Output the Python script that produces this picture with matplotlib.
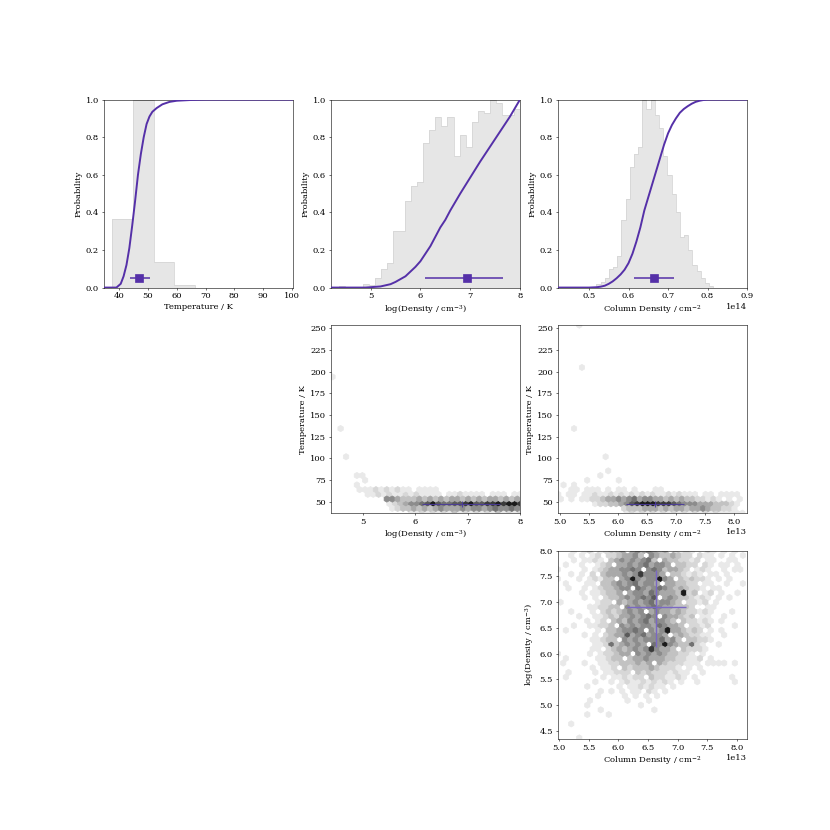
import numpy as np
import matplotlib
matplotlib.use("Agg")
import matplotlib.pyplot as plt
from matplotlib.ticker import ScalarFormatter

plt.rcParams['font.family'] = 'DejaVu Serif'
plt.rcParams['mathtext.fontset'] = 'dejavuserif'
plt.rcParams['font.size'] = 12

PURPLE = '#5530a8'
HIST_FILL = '#e6e6e6'
HIST_EDGE = '#d6d6d6'

# --- Histogramas normalizados (pico = 1), 30 bins sobre el rango de datos ---
temp_range = (37.37, 255.5)
temp_hist = [0.365, 1.0, 0.135, 0.012] + [0.0] * 26

dens_range = (4.36, 8.0)
dens_hist = [0.008, 0.0, 0.0, 0.0, 0.02, 0.015, 0.05, 0.10, 0.13, 0.30,
             0.30, 0.46, 0.54, 0.56, 0.77, 0.84, 0.905, 0.86, 0.905, 0.70,
             0.81, 0.75, 0.88, 0.94, 0.93, 1.0, 0.98, 0.92, 0.92, 0.95]

col_range = (0.4975, 0.8147)  # en 1e14 cm^-2
col_hist = [0.005, 0.005, 0.02, 0.03, 0.05, 0.10, 0.11, 0.17, 0.36, 0.47,
            0.64, 0.71, 0.75, 1.0, 0.95, 1.0, 0.92, 0.85, 0.70, 0.60,
            0.50, 0.40, 0.27, 0.28, 0.20, 0.12, 0.09, 0.05, 0.025, 0.01]

# --- Distribuciones acumuladas ---
temp_cdf_x = [34.6, 39.0, 40.5, 41.5, 42.5, 43.5, 44.5, 45.5, 46.5, 47.5, 48.5,
              49.5, 50.5, 51.5, 53.0, 55.0, 57.5, 60.0, 65.0, 70.0, 100.4]
temp_cdf_y = [0, 0, 0.02, 0.06, 0.12, 0.21, 0.33, 0.46, 0.60, 0.71, 0.80,
              0.87, 0.91, 0.935, 0.955, 0.975, 0.988, 0.994, 0.998, 1.0, 1.0]

dens_cdf_x = [4.2, 4.9, 5.0, 5.1, 5.2, 5.3, 5.4, 5.5, 5.6, 5.7, 5.8, 5.9, 6.0,
              6.1, 6.2, 6.3, 6.4, 6.5, 6.6, 6.8, 7.0, 7.2, 7.4, 7.6, 7.8, 8.0]
dens_cdf_y = [0, 0, 0.002, 0.004, 0.006, 0.012, 0.018, 0.03, 0.045, 0.06, 0.085,
              0.11, 0.14, 0.18, 0.22, 0.27, 0.32, 0.36, 0.41, 0.5, 0.585, 0.67,
              0.75, 0.83, 0.91, 1.0]

col_cdf_x = [0.42, 0.50, 0.52, 0.53, 0.54, 0.55, 0.56, 0.57, 0.58, 0.59, 0.60,
             0.61, 0.62, 0.63, 0.64, 0.65, 0.66, 0.67, 0.68, 0.69, 0.70, 0.71,
             0.72, 0.73, 0.74, 0.75, 0.76, 0.77, 0.78, 0.79, 0.80, 0.82, 0.90]
col_cdf_y = [0, 0, 0.002, 0.005, 0.01, 0.02, 0.033, 0.05, 0.07, 0.095, 0.13,
             0.18, 0.245, 0.32, 0.41, 0.48, 0.55, 0.62, 0.69, 0.76, 0.82, 0.865,
             0.9, 0.93, 0.95, 0.965, 0.978, 0.988, 0.994, 0.998, 1.0, 1.0, 1.0]

# --- Resumen (mediana, límite inferior, límite superior) ---
temp_sum = (46.9, 43.6, 50.7)
dens_sum = (6.90, 6.12, 7.62)
dens_top_sum = (6.93, 6.10, 7.66)
col_sum = (0.664, 0.615, 0.714)  # 1e14

# --- Celdas hexagonales: nivel de gris 1-9 por fila del retículo (fila: cadena) ---
temp_dens_rows = {
    0: "..............." "112121213121212131212",
    1: "..........." "1" "23343434544454554565565",
    2: "..........." "123" "4556797667789778898998",
    3: ".........." "5543334343434434343443434",
    4: "......." "1121211212" "1111.1121111.111.11",
    5: "....." "1" "112121211" "." "1111",
    6: "....." "1",
    7: "......" "1",
    8: "....." "11",
    12: "..." "1",
    18: ".." "1",
    29: "1",
}

temp_col_rows = {
    0: "............." "12121212121212121211111",
    1: "............" "233344434344344543322" "1.",
    2: "......." "1223" "345" "789998" "887" "65554" "4433" "321" ".",
    3: "1.1" ".11" "223" "4454564554" "43434332" "2121.1.1",
    4: "1.11.1121121212121211212111.11.1111.",
    5: "..11.111.1.11.1...11",
    6: ".1.1",
    7: ".....1.....1",
    8: "........1",
    9: ".........1",
    12: ".........1",
    18: "...1",
    31: "....1",
    40: "....1",
}

# de arriba (fila 40) hacia abajo (fila 0)
dens_col_rows = [
    "...1." "12.12" "334.4" "54543" "4.212" "1..21" ".1.1." ".",
    "..1.1" ".12.2" "23445" "3.543" "34322" ".211." "1.1.1",
    "...1." "1121." "34545" "4563." "43322" "12.11" "..11." ".",
    ".1..1" "..123" ".4454" "56455" "4.332" "2.21." "11.1.",
    "1...." "1.123" "44556" "5.565" "34432" ".121." ".1.11" ".",
    "..1.1" ".2.34" "44545" "85554" ".3321" "21.11" ".1...",
    "1...1" ".1213" "3.459" "54559" "54.32" "3221." "1.1.." ".",
    ".1..." "11.33" "45456" "4554." "44332" "2.11." ".1..1",
    "..1.." "1.123" "3455." "65456" "54343" "221.1" "1...." ".",
    "....1" ".1123" "34.45" "54654" "44392" "3.12." "1..1.",
    "....." "1.1.2" "33454" "5657." "45433" "2121." "1.1.." ".",
    "1...." "..122" ".4345" "45645" "543.2" "212.1" ".....",
    "....." ".1122" "33.54" "54565" "44333" "2..11" "....." ".",
    "..1.." ".1.23" "23454" "5.454" "43432" "2121." "..1..",
    "....1" "..112" "32445" "4565." "54432" "3.11." ".1..." ".",
    "....." "1.12." "34354" "56455" "43.32" "2121." "1....",
    "...1." ".1122" "3.545" "45546" "5443." "2212." "...1." ".",
    ".1..." "..1.3" "34556" "5.545" "94432" "32.1." "1....",
    "....." "1.1.2" "34474" "56455" "4.343" "2211." ".1..." ".",
    "....." ".1123" "3.545" "45556" "453.3" "3221." ".....",
    "....." "..112" "63454" "54.65" "95433" "621.." "1...." ".",
    "....." ".11.2" "34345" "45854" "43.32" "221.." ".....",
    "1...." ".1.12" "2344." "54545" "43322" "1.1.." "....." ".",
    ".1..." "..112" "33.34" "45444" "33221" "12.1." ".....",
    ".1..." "1..11" "22333" "434.4" "32221" "11.11" "11.1." ".",
    "....." ".1.11" "2.323" "33432" "221.1" ".1..." ".....",
    "..1.." "..1.1" "1222." "32322" "21211" "..1.." "....." ".",
    ".1..." "...1." "11212" "2.322" "1121." "1...." "..1..",
    "....." "..1.." "1.121" "12121" "21.1." ".1..." "...1." ".",
    "....." "1...." ".1.11" "21211" ".1...",
    "....." "...1." "1.1.1" "1.21." "1....",
    "....." "..1.." "..1.1" ".1.1.",
    "....." ".1..." "...1." "..1..",
    "....." "1...." "....." "1....",
    "....." "...1." "....." "...1.",
    "....." "1...1",
    "",
    "..1",
    "",
    "",
    "....1",
]

GRID = 35


def hex_cells(rows, extent, nx=GRID):
    """Centros de las celdas del retículo de hexbin a partir de las cadenas."""
    x0, x1, y0, y1 = extent
    ny = int(nx / np.sqrt(3))
    sx = (x1 - x0) / nx
    sy = (y1 - y0) / ny
    xs, ys, cs = [], [], []
    for r, row in rows.items():
        for i, ch in enumerate(row):
            if ch != '.':
                xs.append(x0 + (i + 0.5 * (r % 2)) * sx)
                ys.append(y0 + r * sy / 2)
                cs.append(int(ch))
    return xs, ys, cs


def draw_hist(ax, values, rng, scale=1.0):
    edges = np.linspace(rng[0], rng[1], len(values) + 1) * scale
    ax.stairs(values, edges, fill=True, color=HIST_FILL, zorder=1)
    ax.stairs(values, edges, color=HIST_EDGE, lw=1.2, zorder=1)


def draw_summary(ax, s, scale=1.0):
    med, lo, hi = [v * scale for v in s]
    ax.errorbar([med], [0.05], xerr=[[med - lo], [hi - med]], fmt='s',
                color=PURPLE, ms=12, lw=2.2, capsize=0, zorder=4)


def draw_hex(ax, rows, extent, xscale=1.0):
    xs, ys, cs = hex_cells(rows, extent)
    xs = np.array(xs) * xscale
    ext = (extent[0] * xscale, extent[1] * xscale, extent[2], extent[3])
    ax.hexbin(xs, ys, C=cs, gridsize=GRID, extent=ext,
              reduce_C_function=np.max, cmap='Greys', vmin=-0.8, vmax=10)


fig, axes = plt.subplots(3, 3, figsize=(16.6, 16.6))
for ax in (axes[1, 0], axes[2, 0], axes[2, 1]):
    ax.axis('off')

# --- Fila superior: histogramas + CDF ---
ax = axes[0, 0]
draw_hist(ax, temp_hist, temp_range)
ax.plot(temp_cdf_x, temp_cdf_y, color=PURPLE, lw=2.8, zorder=3)
draw_summary(ax, temp_sum)
ax.set_xlim(34.6, 100.4)
ax.set_ylim(0, 1)
ax.set_xlabel('Temperature / K')
ax.set_ylabel('Probability')

ax = axes[0, 1]
draw_hist(ax, dens_hist, dens_range)
ax.plot(dens_cdf_x, dens_cdf_y, color=PURPLE, lw=2.8, zorder=3)
draw_summary(ax, dens_top_sum)
ax.set_xlim(4.2, 8.0)
ax.set_xticks([5, 6, 7, 8])
ax.set_ylim(0, 1)
ax.set_xlabel('log(Density / cm$^{-3}$)')
ax.set_ylabel('Probability')

ax = axes[0, 2]
draw_hist(ax, col_hist, col_range, 1e14)
ax.plot(np.array(col_cdf_x) * 1e14, col_cdf_y, color=PURPLE, lw=2.8, zorder=3)
draw_summary(ax, col_sum, 1e14)
ax.set_xlim(0.421e14, 0.9e14)
ax.set_xticks(np.array([0.5, 0.6, 0.7, 0.8, 0.9]) * 1e14)
fmt = ScalarFormatter()
fmt.set_powerlimits((14, 14))
ax.xaxis.set_major_formatter(fmt)
ax.set_ylim(0, 1)
ax.set_xlabel('Column Density / cm$^{-2}$')
ax.set_ylabel('Probability')

# --- Paneles 2D ---
T_EXT = (36.9, 253.8)
cross_kw = dict(color='#4a3a9c', lw=1.6, alpha=0.9, capsize=0, zorder=4)

ax = axes[1, 1]
draw_hex(ax, temp_dens_rows, (4.36, 8.0) + T_EXT)
ax.errorbar([dens_sum[0]], [temp_sum[0]],
            xerr=[[dens_sum[0] - dens_sum[1]], [dens_sum[2] - dens_sum[0]]],
            yerr=[[temp_sum[0] - temp_sum[1]], [temp_sum[2] - temp_sum[0]]],
            **cross_kw)
ax.set_xlim(4.38, 8.0)
ax.set_xticks([5, 6, 7, 8])
ax.set_ylim(*T_EXT)
ax.set_xlabel('log(Density / cm$^{-3}$)')
ax.set_ylabel('Temperature / K')

ax = axes[1, 2]
draw_hex(ax, temp_col_rows, (4.975, 8.15) + T_EXT, 1e13)
cm, cl, ch = [v * 1e14 for v in col_sum]
ax.errorbar([cm], [temp_sum[0]], xerr=[[cm - cl], [ch - cm]],
            yerr=[[temp_sum[0] - temp_sum[1]], [temp_sum[2] - temp_sum[0]]],
            **cross_kw)
ax.set_xlim(4.967e13, 8.23e13)
ax.set_ylim(*T_EXT)
ax.set_xlabel('Column Density / cm$^{-2}$')
ax.set_ylabel('Temperature / K')

ax = axes[2, 2]
n_rows = len(dens_col_rows)
bottom_rows = {n_rows - 1 - k: row for k, row in enumerate(dens_col_rows)}
draw_hex(ax, bottom_rows, (4.975, 8.15, 4.36, 8.0), 1e13)
ax.errorbar([cm], [dens_sum[0]], xerr=[[cm - cl], [ch - cm]],
            yerr=[[dens_sum[0] - dens_sum[1]], [dens_sum[2] - dens_sum[0]]],
            color='#7a68c4', lw=2.0, capsize=0, zorder=4)
ax.set_xlim(4.975e13, 8.174e13)
ax.set_ylim(4.345, 8.0)
ax.set_xlabel('Column Density / cm$^{-2}$')
ax.set_ylabel('log(Density / cm$^{-3}$)')

fig.savefig('out.png', dpi=50)
